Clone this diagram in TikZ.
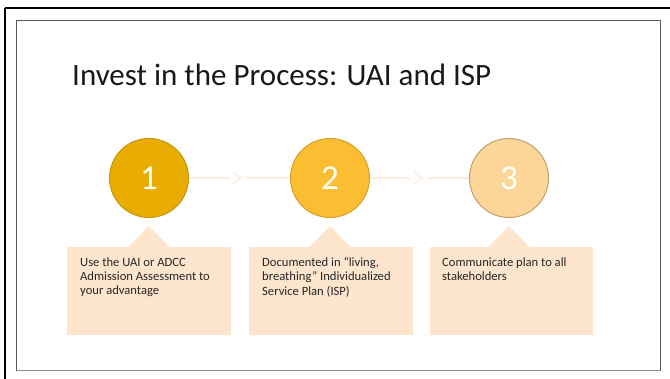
\documentclass[tikz,border=0pt]{standalone}
\usepackage{fontspec}
\setmainfont{Carlito}
\definecolor{boxfill}{HTML}{FDE6CD}
\definecolor{linkcol}{HTML}{FDEBDC}
\definecolor{goldA}{HTML}{E8AD00}
\definecolor{goldAb}{HTML}{C7960C}
\definecolor{goldB}{HTML}{FBBE32}
\definecolor{goldBb}{HTML}{D6A02C}
\definecolor{goldC}{HTML}{FCD598}
\definecolor{goldCb}{HTML}{C4A06C}
\newcommand{\stepnum}[1]{\raisebox{-2.5pt}{#1}}
\begin{document}
\begin{tikzpicture}[x=1pt,y=-1pt,
  stepcircle/.style={circle,minimum size=79pt,inner sep=0pt,line width=1pt,
    text=white,font=\fontsize{35}{37}\selectfont},
  notebox/.style={fill=boxfill,draw=none},
  notetext/.style={anchor=north west,align=left,inner sep=0pt,
    font=\fontsize{12.6}{14.2}\selectfont,text=black!85},
  conn/.style={draw=linkcol,line width=1.2pt},
  chev/.style={draw=linkcol,line width=1.4pt,line join=miter}]
\useasboundingbox (0,0) rectangle (670,379);
\fill[white] (0,0) rectangle (670,379);

% outer frame (top and left edges)
\draw[black,line width=2.6pt] (5,8) -- (670,8);
\draw[black,line width=2.6pt] (5,8) -- (5,379);
% slide border
\draw[black!65,line width=0.9pt] (16.5,20) rectangle (660,370);
\draw[black!45,line width=1.6pt] (16.5,370.5) -- (660,370.5);

% title
\node[anchor=base west,inner sep=0pt,font=\fontsize{31}{34}\selectfont,text=black!90]
  (title) at (72,86) {Invest in the Process: UAI and ISP};

% note boxes with pointers
\fill[notebox] (67,247) rectangle (231,335);
\fill[notebox] (128,247.5) -- (149,226) -- (170,247.5) -- cycle;
\fill[notebox] (249,247) rectangle (413,335);
\fill[notebox] (309,247.5) -- (330,226) -- (351,247.5) -- cycle;
\fill[notebox] (430,247) rectangle (593,335);
\fill[notebox] (488,247.5) -- (509,226) -- (530,247.5) -- cycle;

\node[notetext] (t1) at (80,257.5) {Use the UAI or ADCC\\Admission Assessment to\\your advantage};
\node[notetext] (t2) at (262,257.5) {Documented in “living,\\breathing” Individualized\\Service Plan (ISP)};
\node[notetext] (t3) at (442,257.5) {Communicate plan to all\\stakeholders};

% step circles
\node[stepcircle,fill=goldA,draw=goldAb] (c1) at (149,178) {\stepnum{1}};
\node[stepcircle,fill=goldB,draw=goldBb] (c2) at (330,178) {\stepnum{2}};
\node[stepcircle,fill=goldC,draw=goldCb] (c3) at (509,178) {\stepnum{3}};

% connectors with chevrons
\coordinate (a1) at (230,178);
\coordinate (b1) at (247,178);
\coordinate (a2) at (410,178);
\coordinate (b2) at (427,178);
\draw[conn] (c1.east) -- (a1);
\draw[chev] (233,172) -- (241,178) -- (233,184);
\draw[conn] (b1) -- (c2.west);
\draw[conn] (c2.east) -- (a2);
\draw[chev] (414,172) -- (422,178) -- (414,184);
\draw[conn] (b2) -- (c3.west);
\end{tikzpicture}
\end{document}
